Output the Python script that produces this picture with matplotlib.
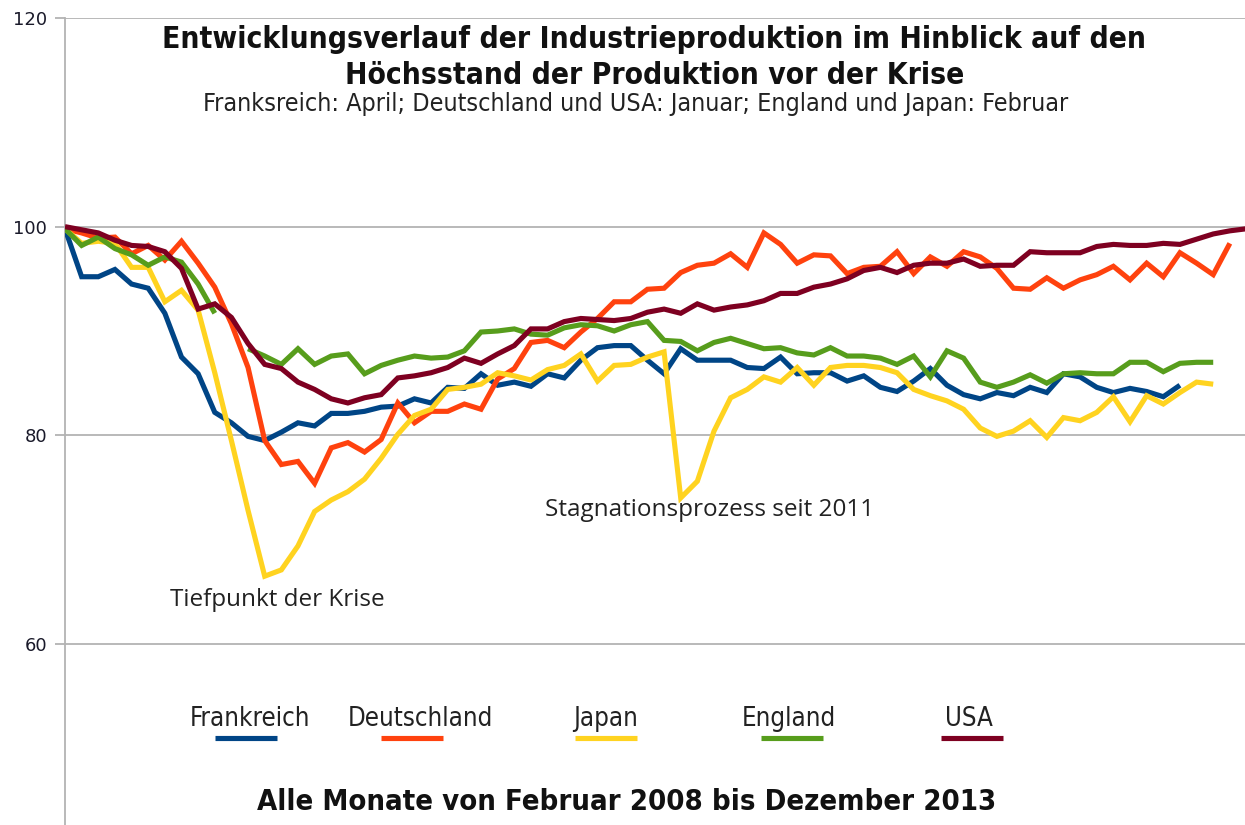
import numpy as np
import matplotlib
matplotlib.use("Agg")
import matplotlib.pyplot as plt
from matplotlib.lines import Line2D

# Monatswerte Feb 2008 .. Dez 2013 (Index: Höchststand vor der Krise = 100)
frankreich = [99.8, 95.2, 95.2, 95.9, 94.5, 94.1, 91.7, 87.5, 85.9, 82.2,
              81.2, 79.9, 79.5, 80.3, 81.2, 80.9, 82.1, 82.1, 82.3, 82.7,
              82.8, 83.5, 83.1, 84.6, 84.5, 85.9, 84.8, 85.1, 84.7, 85.9,
              85.5, 87.2, 88.4, 88.6, 88.6, 87.2, 85.9, 88.3, 87.2, 87.2,
              87.2, 86.5, 86.4, 87.5, 85.9, 86.0, 86.0, 85.2, 85.7, 84.6,
              84.2, 85.2, 86.4, 84.8, 83.9, 83.5, 84.1, 83.8, 84.6, 84.1,
              85.9, 85.6, 84.6, 84.1, 84.5, 84.2, 83.7, 84.8]
deutschland = [99.8, 99.4, 98.9, 99.0, 97.4, 98.2, 96.8, 98.6, 96.5, 94.2,
               90.7, 86.5, 79.5, 77.2, 77.5, 75.4, 78.8, 79.3, 78.4, 79.6,
               83.1, 81.2, 82.3, 82.3, 83.0, 82.5, 85.4, 86.4, 88.9, 89.1,
               88.4, 89.9, 91.2, 92.8, 92.8, 94.0, 94.1, 95.6, 96.3, 96.5,
               97.4, 96.1, 99.4, 98.3, 96.5, 97.3, 97.2, 95.5, 96.1, 96.2,
               97.6, 95.5, 97.1, 96.2, 97.6, 97.1, 96.0, 94.1, 94.0, 95.1,
               94.1, 94.9, 95.4, 96.2, 94.9, 96.5, 95.2, 97.5, 96.5, 95.4,
               98.4]
japan = [99.8, 98.4, 98.6, 98.4, 96.1, 96.1, 92.8, 93.9, 92.0, 86.0,
         79.5, 72.8, 66.5, 67.1, 69.4, 72.7, 73.8, 74.6, 75.8, 77.8,
         80.1, 81.9, 82.5, 84.4, 84.6, 84.9, 86.0, 85.7, 85.3, 86.3,
         86.7, 87.8, 85.2, 86.7, 86.8, 87.5, 88.0, 74.0, 75.6, 80.4,
         83.6, 84.4, 85.6, 85.1, 86.5, 84.8, 86.5, 86.7, 86.7, 86.5,
         86.0, 84.4, 83.8, 83.3, 82.5, 80.7, 79.9, 80.4, 81.4, 79.8,
         81.7, 81.4, 82.2, 83.7, 81.3, 83.8, 83.0, 84.1, 85.1, 84.9]
england = [99.8, 98.2, 99.0, 97.9, 97.3, 96.3, 97.1, 96.6, 94.5, 91.7,
           np.nan, 88.3, 87.6, 86.8, 88.3, 86.8, 87.6, 87.8, 85.9, 86.7,
           87.2, 87.6, 87.4, 87.5, 88.1, 89.9, 90.0, 90.2, 89.7, 89.6,
           90.3, 90.6, 90.5, 90.0, 90.6, 90.9, 89.1, 89.0, 88.1, 88.9,
           89.3, 88.8, 88.3, 88.4, 87.9, 87.7, 88.4, 87.6, 87.6, 87.4,
           86.8, 87.6, 85.6, 88.1, 87.4, 85.1, 84.6, 85.1, 85.8, 85.0,
           85.9, 86.0, 85.9, 85.9, 87.0, 87.0, 86.1, 86.9, 87.0, 87.0]
usa = [100.0, 99.7, 99.4, 98.7, 98.2, 98.1, 97.6, 96.0, 92.1, 92.6,
       91.3, 88.8, 86.8, 86.4, 85.1, 84.4, 83.5, 83.1, 83.6, 83.9,
       85.5, 85.7, 86.0, 86.5, 87.4, 86.9, 87.8, 88.6, 90.2, 90.2,
       90.9, 91.2, 91.1, 91.0, 91.2, 91.8, 92.1, 91.7, 92.6, 92.0,
       92.3, 92.5, 92.9, 93.6, 93.6, 94.2, 94.5, 95.0, 95.8, 96.1,
       95.6, 96.3, 96.5, 96.5, 96.9, 96.2, 96.3, 96.3, 97.6, 97.5,
       97.5, 97.5, 98.1, 98.3, 98.2, 98.2, 98.4, 98.3, 98.8, 99.3,
       99.6, 99.8, 100.7]

laender = ['Frankreich', 'Deutschland', 'Japan', 'England', 'USA']
werte = [frankreich, deutschland, japan, england, usa]
farben = ['#004586', '#ff420e', '#ffd320', '#579d1c', '#7e0021']
yticks = [60, 80, 100, 120]

cond = dict(family='DejaVu Sans', stretch='condensed')

fig = plt.figure(figsize=(12.45, 8.25), dpi=100)
ax = fig.add_axes([65 / 1245, 0, 1180 / 1245, 807 / 825])

for name, w, c in zip(laender, werte, farben):
    ax.plot(np.arange(len(w)), w, color=c, lw=3.7, solid_joinstyle='miter',
            solid_capstyle='butt', zorder=3)

ax.set_xlim(0, 70.91)
ax.set_ylim(42.65, 120)
ax.set_yticks(yticks)
ax.set_xticks([])
ax.yaxis.grid(True, color='#b3b3b3', lw=1.3)
ax.set_axisbelow(True)
for s in ['top', 'right', 'bottom']:
    ax.spines[s].set_visible(False)
ax.spines['left'].set_color('#b3b3b3')
ax.spines['left'].set_linewidth(1.3)
ax.tick_params(axis='y', length=7, width=1.3, color='#b3b3b3', pad=6,
               labelsize=13, labelcolor='#1a1a2a')

# Titel
fig.text(654 / 1245, 1 - 40 / 825,
         'Entwicklungsverlauf der Industrieproduktion im Hinblick auf den',
         ha='center', va='center', fontsize=21.5, weight='bold', color='#111111', **cond)
fig.text(655 / 1245, 1 - 75 / 825, 'Höchsstand der Produktion vor der Krise',
         ha='center', va='center', fontsize=21.5, weight='bold', color='#111111', **cond)
fig.text(636 / 1245, 1 - 104 / 825,
         'Franksreich: April; Deutschland und USA: Januar; England und Japan: Februar',
         ha='center', va='center', fontsize=18, color='#222222', **cond)
fig.text(627 / 1245, 1 - 802 / 825, 'Alle Monate von Februar 2008 bis Dezember 2013',
         ha='center', va='center', fontsize=21, weight='bold', color='#111111', **cond)

# Anmerkungen
fig.text(277 / 1245, 1 - 600 / 825, 'Tiefpunkt der Krise', ha='center', va='center',
         fontsize=17.5, family='Open Sans', color='#222222')
fig.text(710 / 1245, 1 - 510 / 825, 'Stagnationsprozess seit 2011', ha='center',
         va='center', fontsize=17.5, family='Open Sans', color='#222222')

# Legende (Text oben, Linie darunter)
leg_text_x = [250, 420, 606, 789, 969]
leg_line_x = [246, 412, 606, 792, 972]
for name, c, tx, lx in zip(laender, farben, leg_text_x, leg_line_x):
    fig.text(tx / 1245, 1 - 719 / 825, name, ha='center', va='center',
             fontsize=18.5, color='#222222', **cond)
    fig.add_artist(Line2D([(lx - 31) / 1245, (lx + 31) / 1245],
                          [1 - 738 / 825, 1 - 738 / 825], color=c, lw=3.7,
                          solid_capstyle='butt'))

fig.savefig('out.png', dpi=100)
